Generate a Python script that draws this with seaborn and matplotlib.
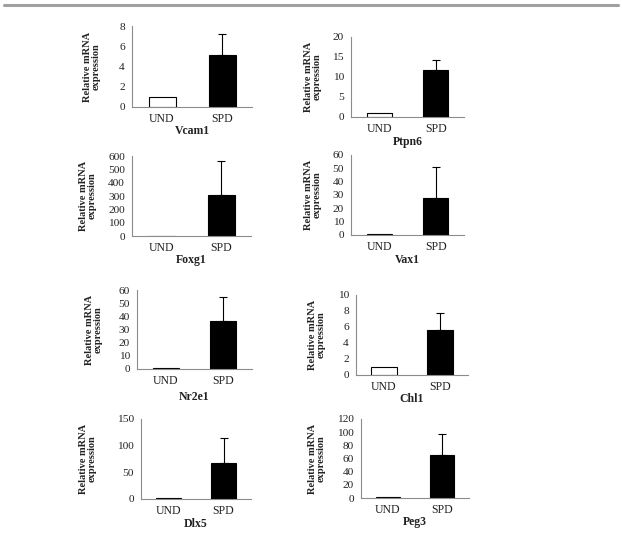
import matplotlib
matplotlib.use('Agg')
import matplotlib.pyplot as plt
import pandas as pd
import seaborn as sns

genes = ['Vcam1', 'Ptpn6', 'Foxg1', 'Vax1', 'Nr2e1', 'Chl1', 'Dlx5', 'Peg3']
groups = ['UND', 'SPD']
und_values = [1.0, 0.9, 3, 1.0, 1.0, 1.0, 1.0, 1.0]
spd_values = [5.1, 11.8, 305, 28, 36.5, 5.6, 67, 65]
spd_errors = [2.15, 2.4, 255, 23, 18.5, 2.1, 47, 32]
y_max = [8, 20, 600, 60, 60, 10, 150, 120]
y_step = [2, 5, 100, 10, 10, 2, 50, 20]

# axes boxes in pixels: x0, x1, y_top, y_bottom, ylabel centre x, xlabel y
boxes = [
    (132, 252, 26, 107, 101, 131),
    (351, 464, 37, 117, 322, 142),
    (132, 251, 156, 236, 97, 260),
    (351, 464, 155, 235, 322, 260),
    (137, 252, 290, 369, 103, 397),
    (356, 468, 295, 375, 326, 399),
    (141, 251, 419, 499, 97, 524),
    (361, 469, 419, 498, 326, 522),
]

sns.set_style('white')
plt.rcParams['font.family'] = ['Liberation Serif', 'DejaVu Serif']

W, H = 622, 538
fig = plt.figure(figsize=(W / 100, H / 100), dpi=100)
fig.add_artist(plt.Line2D([4 / W, 618 / W], [1 - 5 / H, 1 - 5 / H], color='#a0a0a0', lw=2.2))

axis_col = '#8c8c8c'
text_col = '#222222'

for i, gene in enumerate(genes):
    x0, x1, yt, yb, ylx, xly = boxes[i]
    ax = fig.add_axes([x0 / W, 1 - yb / H, (x1 - x0) / W, (yb - yt) / H])
    df = pd.DataFrame({'group': groups, 'value': [und_values[i], spd_values[i]]})
    sns.barplot(data=df, x='group', y='value', hue='group', palette=['white', 'black'],
                edgecolor='black', linewidth=0.8, width=0.45, legend=False, ax=ax)
    ax.errorbar([1], [spd_values[i]], yerr=[[0], [spd_errors[i]]], fmt='none',
                ecolor='black', elinewidth=0.8, capsize=3, capthick=0.8)
    ax.set_ylim(0, y_max[i])
    ax.set_xlim(-0.5, 1.5)
    ax.set_yticks(range(0, y_max[i] + 1, y_step[i]))
    ax.set_xticks([-0.5, 0.5, 1.5], minor=True)
    ax.tick_params(axis='x', which='major', length=0, labelsize=8.5, pad=4, labelcolor=text_col)
    ax.tick_params(axis='x', which='minor', length=3, color=axis_col, width=0.8)
    ax.tick_params(axis='y', length=3, color=axis_col, width=0.8, labelsize=8.2, pad=2,
                   labelcolor=text_col)
    for s in ['top', 'right']:
        ax.spines[s].set_visible(False)
    for s in ['left', 'bottom']:
        ax.spines[s].set_color(axis_col)
        ax.spines[s].set_linewidth(0.8)
    ax.set_ylabel('Relative mRNA\nexpression', fontsize=7.5, fontweight='bold', linespacing=1.0,
                  color=text_col)
    ax.yaxis.set_label_coords((ylx - x0) / (x1 - x0), 0.5)
    ax.set_xlabel(gene, fontsize=8.5, fontweight='bold', color=text_col)
    ax.xaxis.set_label_coords(0.5, -(xly - yb) / (yb - yt))
    ax.xaxis.label.set_verticalalignment('center')

fig.savefig('out.png', dpi=100)
